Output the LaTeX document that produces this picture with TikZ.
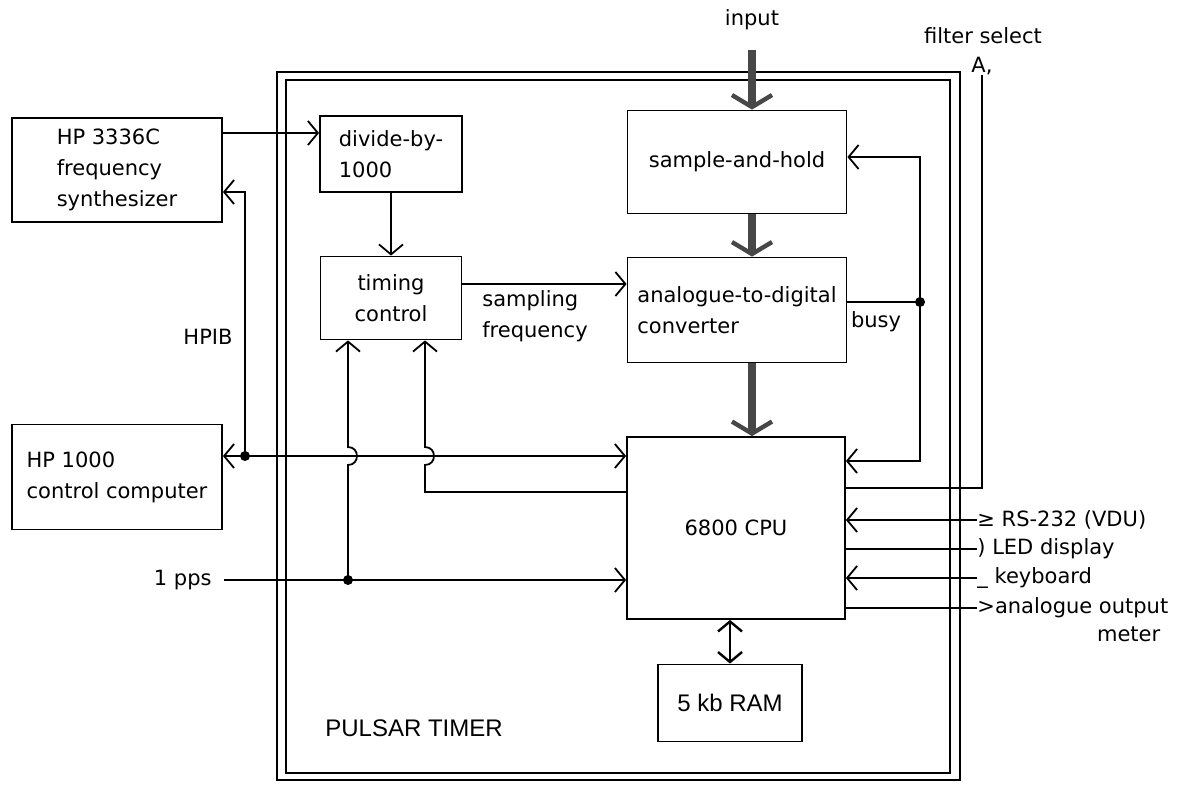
\documentclass[tikz,border=0pt]{standalone}
\usepackage{fontspec}
\setmainfont{DejaVu Sans}
\newfontfamily\narrowfont{Liberation Sans}
\usetikzlibrary{arrows.meta, calc}

\tikzset{
  box/.style={draw, line width=0.9pt, align=left, inner sep=2pt},
  wire/.style={line width=0.9pt},
  arr/.style={line width=0.9pt, -{Straight Barb[length=5pt,width=12pt]}},
  arrtwo/.style={line width=1.2pt, {Straight Barb[length=5pt,width=12pt]}-{Straight Barb[length=5pt,width=12pt]}},
  bus/.style={line width=4pt, draw=black!72, -{Straight Barb[length=6pt,width=20pt,line width=2.2pt]}},
  lbl/.style={inner sep=1pt, align=left},
  sidelbl/.style={inner sep=0pt, anchor=west},
  narrow/.style={font=\narrowfont\fontsize{12}{14}\selectfont},
}

\begin{document}
\begin{tikzpicture}[x=0.5pt, y=-0.5pt, font=\fontsize{10.5}{15.5}\selectfont]
\useasboundingbox (0,0) rectangle (1180,784);

% pulsar timer frame
\draw[wire] (277,72) rectangle (960,780);
\draw[wire] (286,80) rectangle (950,773);
\node[lbl, narrow, anchor=west] (title) at (323,728) {PULSAR TIMER};

% blocks
\node[box, minimum width=105pt, minimum height=52pt] (synth) at (117,170) {HP 3336C\\frequency\\synthesizer};
\node[box, minimum width=105pt, minimum height=52.5pt] (hpc) at (117,477) {HP 1000\\control computer};
\node[box, minimum width=71pt, minimum height=38pt] (div) at (391,154) {divide-by-\\1000};
\node[box, align=center, minimum width=70.5pt, minimum height=41.5pt] (tim) at (391,298) {timing\\control};
\node[box, minimum width=109.5pt, minimum height=51.5pt] (sh) at (737,162) {sample-and-hold};
\node[box, minimum width=109.5pt, minimum height=52.5pt] (adc) at (737,310) {analogue-to-digital\\converter};
\node[box, minimum width=109pt, minimum height=91pt] (cpu) at (736,528) {6800 CPU};
\node[box, narrow, minimum width=72pt, minimum height=38.5pt] (ram) at (730,703) {5 kb RAM};

% labels
\node (input) at (752,20) {input};
\node (fsel) at (983,36) {filter select};
\node[inner sep=0pt, anchor=base] (fsA) at (982,72) {A,};
\node[lbl] (hpib) at (208,337) {HPIB};
\node[lbl] (sfreq) at (535,316) {sampling\\frequency};
\node[lbl] (busy) at (876,322) {busy};
\node[lbl, anchor=east] (pps) at (214,580) {1 pps};
\node[sidelbl] (rs) at (977,520) {≥ RS-232 (VDU)};
\node[sidelbl] (led) at (977,549) {) LED display};
\node[sidelbl] (kb) at (977,578) {\_ keyboard};
\node[sidelbl] (aout) at (977,608) {>analogue output};
\node[inner sep=0pt, anchor=north east, yshift=-4pt, xshift=-4pt] (meter) at (aout.south east) {meter};

% rows
\coordinate (r1) at (0,133);
\coordinate (r2) at (0,192);
\coordinate (r3) at (0,284);
\coordinate (r5) at (0,157);
\coordinate (r6) at (0,461);
\coordinate (r7) at (0,488);
\coordinate (hpdot) at (245,456);
\coordinate (ppsdot) at (348,580);
\coordinate (c2) at (425,492);
\coordinate (bdot) at (920,302);

% synthesizer and HPIB
\draw[arr] (synth.east |- r1) -- (div.west |- r1);
\draw[arr] (hpdot) |- (synth.east |- r2);
\draw[arr] (hpdot) -- (hpc.east |- hpdot);
\draw[arr] (hpdot) -- (cpu.west |- hpdot);
\fill (hpdot) circle (2.5pt);

% timing
\draw[arr] (div.south) -- (tim.north);
\draw[arr] (tim.east |- r3) -- (adc.west |- r3);
\draw[arr, shorten <=5pt] (pps.east) -- (cpu.west |- pps.east);
\draw[arr] (ppsdot) -- ($(ppsdot |- hpdot)+(0,9)$) .. controls +(12,0) and +(12,0) .. ($(ppsdot |- hpdot)+(0,-9)$) -- (tim.south -| ppsdot);
\fill (ppsdot) circle (2.5pt);
\draw[arr] (cpu.west |- c2) -- (c2) -- ($(c2 |- hpdot)+(0,9)$) .. controls +(12,0) and +(12,0) .. ($(c2 |- hpdot)+(0,-9)$) -- (tim.south -| c2);

% busy
\draw[wire] (adc.east |- bdot) -- (bdot);
\draw[arr] (bdot) |- (sh.east |- r5);
\draw[arr] (bdot) |- (cpu.east |- r6);
\fill (bdot) circle (2.5pt);

% outside lines
\draw[wire] (cpu.east |- r7) -| (fsA.south);
\draw[arr] (rs.west) -- (cpu.east |- rs.west);
\draw[wire] (cpu.east |- led.west) -- (led.west);
\draw[arr] (kb.west) -- (cpu.east |- kb.west);
\draw[wire] (cpu.east |- aout.west) -- (aout.west);
\draw[arrtwo] (ram.north |- cpu.south) -- (ram.north);

% data path
\draw[bus, shorten <=6.5pt] (input.south) -- (input.south |- sh.north);
\draw[bus] (sh.south -| input) -- (adc.north -| input);
\draw[bus] (adc.south -| input) -- (cpu.north -| input);
\end{tikzpicture}
\end{document}
